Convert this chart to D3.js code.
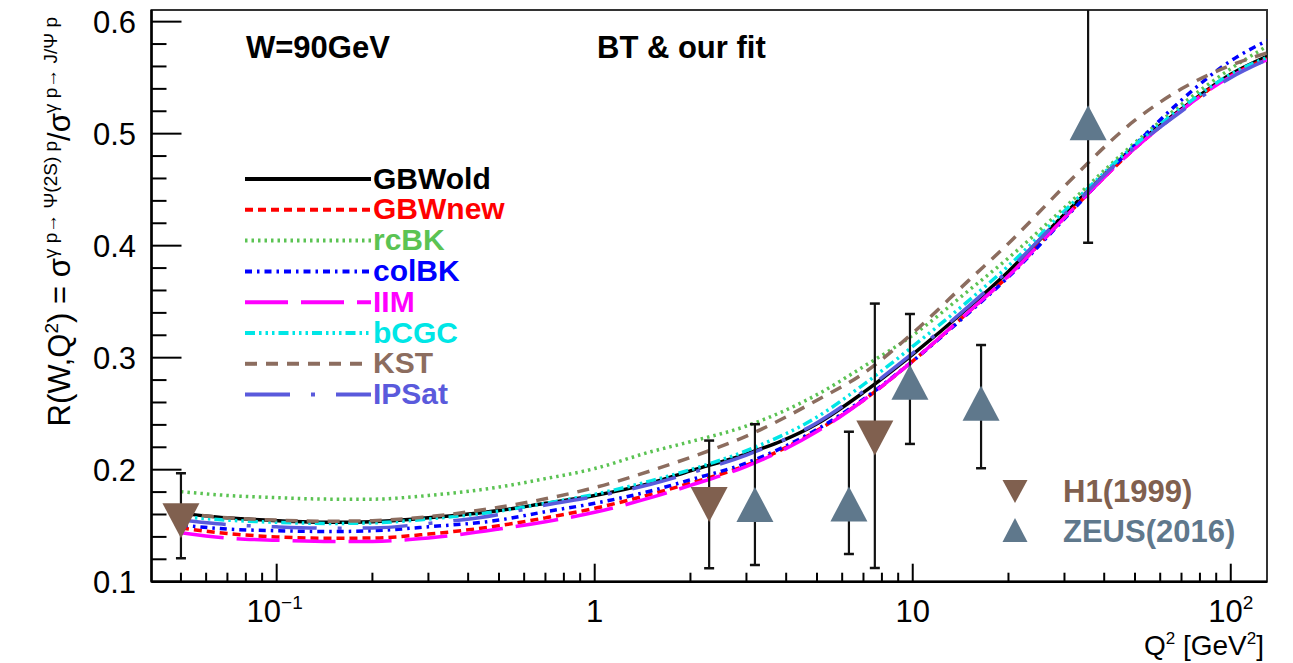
<!DOCTYPE html>
<html><head><meta charset="utf-8">
<script src="https://cdn.jsdelivr.net/npm/d3@7"></script>
<style>
html,body{margin:0;padding:0;background:#fff;}
svg{display:block;font-family:"Liberation Sans",Arial,Helvetica,sans-serif;}
</style>
</head><body>
<svg id="chart" width="1293" height="663"></svg>
<script>
// ---------- data ----------
const q2Grid = [0.05, 0.07, 0.1, 0.15, 0.2, 0.3, 0.5, 0.7, 1, 1.5, 2, 3, 5, 7, 10, 15, 20, 30, 50, 70, 100, 130];

const gbwOld = [0.161, 0.157, 0.1545, 0.153, 0.1535, 0.157, 0.1635, 0.170, 0.177, 0.188, 0.199, 0.214, 0.241, 0.269, 0.303, 0.345, 0.377, 0.428, 0.489, 0.522, 0.553, 0.569];
const gbwNew = [0.148, 0.143, 0.140, 0.1388, 0.139, 0.1425, 0.150, 0.157, 0.1655, 0.178, 0.188, 0.204, 0.235, 0.262, 0.297, 0.341, 0.373, 0.425, 0.487, 0.521, 0.552, 0.567];
const rcBK   = [0.1804, 0.177, 0.175, 0.1737, 0.1737, 0.177, 0.1845, 0.192, 0.201, 0.216, 0.225, 0.239, 0.267, 0.292, 0.320, 0.360, 0.389, 0.434, 0.492, 0.526, 0.558, 0.578];
const colBK  = [0.1506, 0.147, 0.1455, 0.1448, 0.1455, 0.149, 0.155, 0.1625, 0.170, 0.181, 0.191, 0.206, 0.236, 0.263, 0.297, 0.340, 0.372, 0.424, 0.490, 0.530, 0.565, 0.583];
const iim    = [0.1438, 0.139, 0.137, 0.1358, 0.136, 0.139, 0.147, 0.1535, 0.162, 0.175, 0.186, 0.203, 0.234, 0.262, 0.297, 0.341, 0.373, 0.425, 0.487, 0.521, 0.551, 0.566];
const bCGC   = [0.158, 0.155, 0.153, 0.152, 0.1525, 0.156, 0.163, 0.170, 0.178, 0.190, 0.200, 0.217, 0.247, 0.276, 0.310, 0.351, 0.382, 0.431, 0.490, 0.523, 0.553, 0.568];
const kst    = [0.161, 0.157, 0.155, 0.154, 0.1545, 0.158, 0.1665, 0.174, 0.184, 0.199, 0.211, 0.230, 0.262, 0.286, 0.322, 0.369, 0.402, 0.453, 0.512, 0.540, 0.561, 0.572];
const ipSat  = [0.155, 0.151, 0.149, 0.1478, 0.148, 0.152, 0.160, 0.1685, 0.176, 0.187, 0.197, 0.213, 0.242, 0.270, 0.304, 0.346, 0.378, 0.428, 0.488, 0.520, 0.550, 0.566];

const modelNames = ["GBWold", "GBWnew", "rcBK", "colBK", "IIM", "bCGC", "KST", "IPSat"];
const modelValues = [gbwOld, gbwNew, rcBK, colBK, iim, bCGC, kst, ipSat];

const h1Q2 = [0.05, 2.29, 7.6];
const h1R = [0.1544, 0.169, 0.2283];
const h1ErrUp = [0.0424, 0.057, 0.120];
const h1ErrDown = [0.0335, 0.057, 0.116];

const zeusQ2 = [3.19, 6.3, 9.8, 16.4, 35.6];
const zeusR = [0.169, 0.1694, 0.278, 0.2593, 0.5097];
const zeusErrUp = [0.0716, 0.0645, 0.061, 0.052, 0.110];
const zeusErrDown = [0.0541, 0.0447, 0.055, 0.058, 0.107];

const yTicks = [0.1, 0.2, 0.3, 0.4, 0.5, 0.6];
const yTickLabels = ["0.1", "0.2", "0.3", "0.4", "0.5", "0.6"];
const xMajorTicks = [0.1, 1, 10, 100];

// ---------- styles ----------
const modelStyles = [
  {color: "#000000", dash: null, width: 3.5},
  {color: "#ff0000", dash: "8 5", width: 3.5},
  {color: "#5bc353", dash: "2.5 4", width: 3.5},
  {color: "#0000ff", dash: "7 5 2.5 5", width: 3.5},
  {color: "#ff00ff", dash: "43 13", width: 3.5},
  {color: "#00e6e6", dash: "10 4 2.5 4 2.5 4 2.5 4", width: 3.5},
  {color: "#8c6d5f", dash: "12 9", width: 3.5},
  {color: "#5a5adc", dash: "45 21 4 21", width: 3.5}
];
const h1Color = "#80604f";
const zeusColor = "#5f788c";

// ---------- layout ----------
const svg = d3.select("#chart");
const L = 151.5, R = 1267, T = 10, B = 581.7;
const x = d3.scaleLog().domain([0.0404, 130]).range([L, R]);
const y = d3.scaleLinear().domain([0.1, 0.6104]).range([B, T]);

svg.append("defs").append("clipPath").attr("id", "frameClip")
  .append("rect").attr("x", L).attr("y", T).attr("width", R - L).attr("height", B - T);

// frame
svg.append("rect").attr("x", L).attr("y", T).attr("width", R - L).attr("height", B - T)
  .attr("fill", "none").attr("stroke", "#333").attr("stroke-width", 2);
svg.append("line").attr("x1", L).attr("x2", L).attr("y1", T).attr("y2", B).attr("stroke", "#000").attr("stroke-width", 2.5);
svg.append("line").attr("x1", L).attr("x2", R).attr("y1", B).attr("y2", B).attr("stroke", "#000").attr("stroke-width", 2.5);

// x ticks (inside)
const xMinor = [];
for (const dec of [0.01, 0.1, 1, 10]) for (let k = 2; k <= 9; k++) {
  const v = dec * k; if (v >= 0.0404 && v <= 130) xMinor.push(v);
}
const tickG = svg.append("g").attr("stroke", "#000").attr("stroke-width", 2);
xMinor.forEach(v => tickG.append("line").attr("x1", x(v)).attr("x2", x(v)).attr("y1", B).attr("y2", B - 9));
xMajorTicks.forEach(v => tickG.append("line").attr("x1", x(v)).attr("x2", x(v)).attr("y1", B).attr("y2", B - 18));

// y ticks (inside)
for (let i = 0; i <= 25; i++) {
  const v = 0.1 + i * 0.02;
  if (v > 0.6104) break;
  const major = i % 5 === 0;
  tickG.append("line").attr("x1", L).attr("x2", L + (major ? 30 : 15)).attr("y1", y(v)).attr("y2", y(v));
}

// y tick labels
yTicks.forEach((v, i) => {
  svg.append("text").attr("x", 136).attr("y", y(v) + 11).attr("text-anchor", "end")
    .attr("font-size", 31).attr("fill", "#000").text(yTickLabels[i]);
});

// x tick labels
const xl = svg.append("g").attr("font-size", 31).attr("fill", "#000");
{
  const t = xl.append("text").attr("x", x(0.1) - 2).attr("y", 622).attr("text-anchor", "middle");
  t.append("tspan").text("10");
  t.append("tspan").attr("font-size", 19).attr("dy", -13).text("\u22121");
  xl.append("text").attr("x", x(1)).attr("y", 622).attr("text-anchor", "middle").text("1");
  xl.append("text").attr("x", x(10)).attr("y", 622).attr("text-anchor", "middle").text("10");
  const t2 = xl.append("text").attr("x", x(100)).attr("y", 622).attr("text-anchor", "middle");
  t2.append("tspan").text("10");
  t2.append("tspan").attr("font-size", 19).attr("dy", -13).text("2");
}

// x axis title
{
  const t = svg.append("text").attr("x", 1264).attr("y", 655).attr("text-anchor", "end").attr("font-size", 28).attr("fill", "#000");
  t.append("tspan").text("Q");
  t.append("tspan").attr("font-size", 17).attr("dy", -11).text("2");
  t.append("tspan").attr("dy", 11).text(" [GeV");
  t.append("tspan").attr("font-size", 17).attr("dy", -11).text("2");
  t.append("tspan").attr("dy", 11).text("]");
}

// y axis title (rotated)
{
  const t = svg.append("text").attr("transform", "translate(70,17) rotate(-90)")
    .attr("text-anchor", "end").attr("font-size", 31).attr("fill", "#000");
  t.append("tspan").text("R(W,Q");
  t.append("tspan").attr("font-size", 19).attr("dy", -12).text("2");
  t.append("tspan").attr("dy", 12).text(") = \u03c3");
  t.append("tspan").attr("font-size", 19).attr("dy", -13).text("\u03b3 p\u2192 \u03a8(2S) p");
  t.append("tspan").attr("dy", 13).text("/\u03c3");
  t.append("tspan").attr("font-size", 19).attr("dy", -13).text("\u03b3 p\u2192 J/\u03a8 p");
}

// curves
const plot = svg.append("g").attr("clip-path", "url(#frameClip)");
const line = d3.line().x(d => x(d[0])).y(d => y(d[1])).curve(d3.curveMonotoneX);
modelValues.forEach((vals, i) => {
  const st = modelStyles[i];
  plot.append("path").datum(q2Grid.map((q, j) => [q, vals[j]]))
    .attr("d", line).attr("fill", "none").attr("stroke", st.color)
    .attr("stroke-width", st.width).attr("stroke-dasharray", st.dash);
});

// data points
function tri(cx, cy, w, h, up) {
  return up
    ? `M${cx - w / 2},${cy + h / 2}L${cx + w / 2},${cy + h / 2}L${cx},${cy - h / 2}Z`
    : `M${cx - w / 2},${cy - h / 2}L${cx + w / 2},${cy - h / 2}L${cx},${cy + h / 2}Z`;
}
function drawSet(qs, rs, up_, dn_, color, isUp) {
  qs.forEach((q, i) => {
    const cx = x(q), y1 = y(rs[i] + up_[i]), y2 = y(rs[i] - dn_[i]);
    const g = plot.append("g");
    g.append("line").attr("x1", cx).attr("x2", cx).attr("y1", y1).attr("y2", y2).attr("stroke", "#111").attr("stroke-width", 2.2);
    g.append("line").attr("x1", cx - 5).attr("x2", cx + 5).attr("y1", y1).attr("y2", y1).attr("stroke", "#111").attr("stroke-width", 2.5);
    g.append("line").attr("x1", cx - 5).attr("x2", cx + 5).attr("y1", y2).attr("y2", y2).attr("stroke", "#111").attr("stroke-width", 2.5);
    g.append("path").attr("d", tri(cx, y(rs[i]), 37, 35, isUp)).attr("fill", color);
  });
}
drawSet(h1Q2, h1R, h1ErrUp, h1ErrDown, h1Color, false);
drawSet(zeusQ2, zeusR, zeusErrUp, zeusErrDown, zeusColor, true);

// top labels
svg.append("text").attr("x", 246).attr("y", 58).attr("font-size", 31).attr("font-weight", "bold").text("W=90GeV");
svg.append("text").attr("x", 597).attr("y", 58).attr("font-size", 31).attr("font-weight", "bold").text("BT & our fit");

// model legend
modelNames.forEach((name, i) => {
  const cy = 178 + i * 30.8;
  const st = modelStyles[i];
  svg.append("line").attr("x1", 245).attr("x2", 371).attr("y1", cy + 1).attr("y2", cy + 1)
    .attr("stroke", st.color).attr("stroke-width", 4).attr("stroke-dasharray", st.dash);
  svg.append("text").attr("x", 373).attr("y", cy + 10.5).attr("font-size", 30).attr("font-weight", "bold")
    .attr("fill", st.color).text(name);
});

// data legend
svg.append("path").attr("d", tri(1015, 491.5, 25, 23, false)).attr("fill", h1Color);
svg.append("path").attr("d", tri(1015, 530, 25, 24, true)).attr("fill", zeusColor);
svg.append("text").attr("x", 1063).attr("y", 502).attr("font-size", 31).attr("font-weight", "bold").attr("fill", h1Color).text("H1(1999)");
svg.append("text").attr("x", 1063).attr("y", 542).attr("font-size", 31).attr("font-weight", "bold").attr("fill", zeusColor).text("ZEUS(2016)");
</script>
</body></html>
